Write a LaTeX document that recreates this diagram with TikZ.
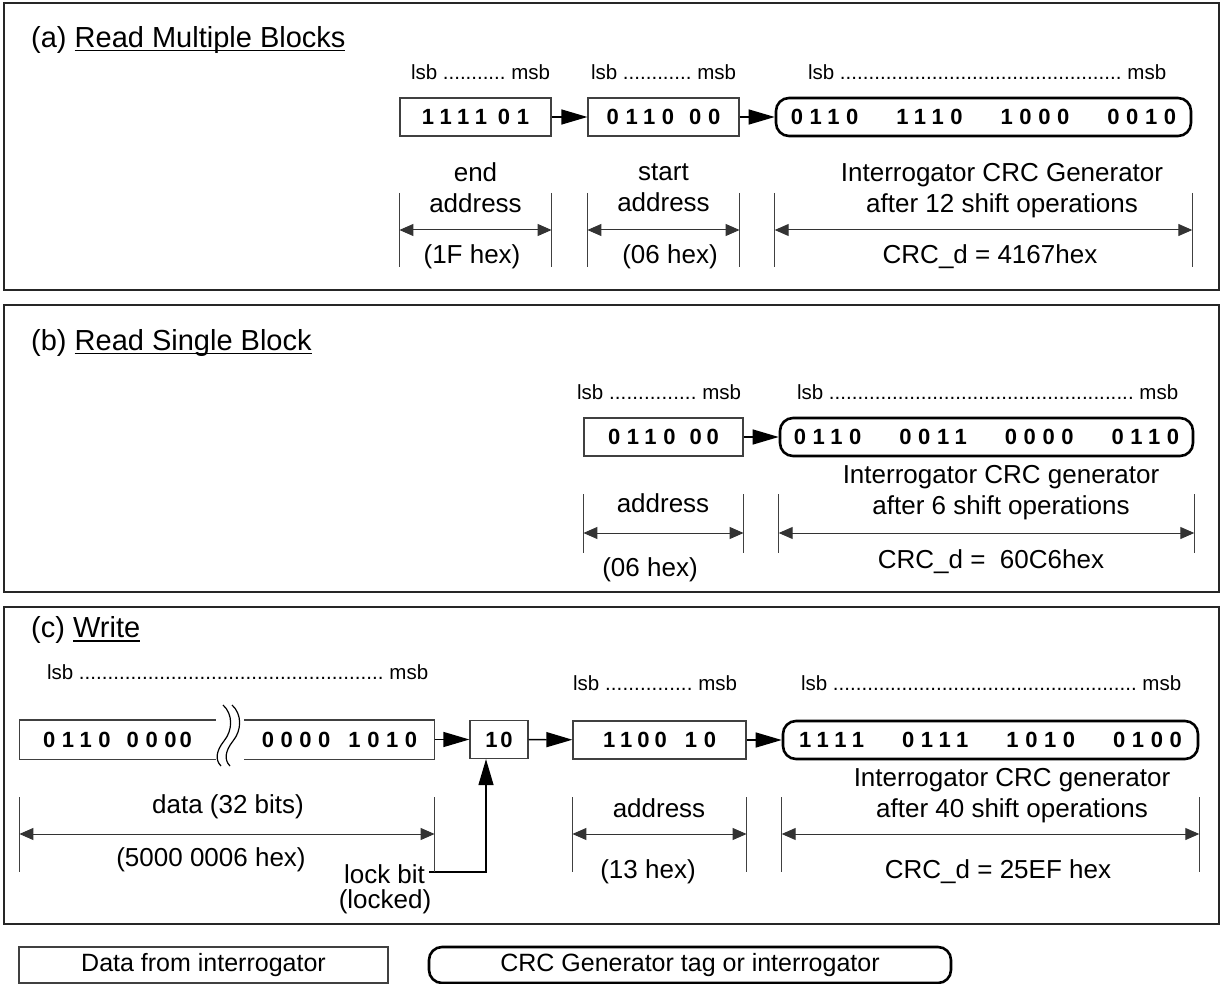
\documentclass[tikz,border=0pt]{standalone}
\usepackage{fontspec}
\setmainfont{Liberation Sans}
\newfontfamily\bitfont[LetterSpace=30]{Liberation Sans}
\usetikzlibrary{arrows.meta}

% lsb ... msb over a given width
\newcommand{\bitorder}[1]{\makebox[#1]{lsb\ \xleaders\hbox{.}\hfill\ msb}}
% four nibbles of a CRC register
\newcommand{\crcgroups}[4]{#1\hspace{38pt}#2\hspace{38pt}#3\hspace{38pt}#4}
% thick underline for the titles
\newcommand{\titleline}[1]{\setbox0\hbox{#1}\rlap{\rule[-4pt]{\wd0}{1.6pt}}\box0}

\begin{document}
\begin{tikzpicture}[x=1pt,y=-1pt,>={Triangle[length=26pt,width=15pt]},
  panel/.style={draw=black!85,line width=2pt},
  bitbox/.style={draw=black!75,line width=1.2pt,minimum height=38pt,inner sep=0pt,
                 font=\fontsize{22}{26}\bitfont\bfseries},
  crcbox/.style={bitbox,draw=black,line width=2.6pt,rounded corners=13pt},
  legend/.style={minimum height=36pt,font=\fontsize{25}{30}\selectfont},
  flow/.style={->,line width=1.3pt},
  title/.style={anchor=west,inner sep=0pt,font=\fontsize{29}{34}\selectfont},
  order/.style={inner sep=0pt,font=\fontsize{20.5}{24}\selectfont},
  lbl/.style={inner sep=0pt,align=center,font=\fontsize{26}{31}\selectfont},
  tick/.style={draw=black!75,line width=1pt},
  dim/.style={draw=black!80,line width=1pt,
              {Triangle[length=14pt,width=12pt]}-{Triangle[length=14pt,width=12pt]}}]

\useasboundingbox (0,0) rectangle (1223,984);

% (a) read multiple blocks
\draw[panel] (4,3) rectangle (1219,290);
\node[title] (ta) at (31,40) {(a) \titleline{Read Multiple Blocks}};
\node[order] (oea) at (480.5,72) {\bitorder{139pt}};
\node[order] (osa) at (663.5,72) {\bitorder{145pt}};
\node[order] (oca) at (987,72)   {\bitorder{358pt}};
\node[bitbox,minimum width=151pt] (ea) at (475.5,117) {1111\hspace{11pt}01};
\node[bitbox,minimum width=151pt] (sa) at (663.5,117) {0110\hspace{15pt}00};
\node[crcbox,minimum width=415pt] (ca) at (983.5,117) {\crcgroups{0110}{1110}{1000}{0010}};
\draw[flow] (ea) -- (sa);
\draw[flow] (sa) -- (ca);
\node[lbl] (eal) at (475.5,188) {end\\address};
\node[lbl] (eah) at (472,257)   {(1F hex)};
\node[lbl] (sal) at (663.5,188) {start\\address};
\node[lbl] (sah) at (670,257)   {(06 hex)};
\node[lbl] (cal) at (1002,191)  {Interrogator CRC Generator\\after 12 shift operations};
\node[lbl] (cah) at (990,257)   {CRC\_d = 4167hex};
\path (ea.west |- 0,193) edge[tick] (ea.west |- 0,267)
      (ea.east |- 0,193) edge[tick] (ea.east |- 0,267)
      (sa.west |- 0,193) edge[tick] (sa.west |- 0,267)
      (sa.east |- 0,193) edge[tick] (sa.east |- 0,267)
      (ca.west |- 0,193) edge[tick] (ca.west |- 0,267)
      (ca.east |- 0,193) edge[tick] (ca.east |- 0,267)
      (ea.west |- 0,230) edge[dim]  (ea.east |- 0,230)
      (sa.west |- 0,230) edge[dim]  (sa.east |- 0,230)
      (ca.west |- 0,230) edge[dim]  (ca.east |- 0,230);

% (b) read single block
\draw[panel] (4,305) rectangle (1219,592);
\node[title] (tb) at (31,343) {(b) \titleline{Read Single Block}};
\node[order] (oab) at (659,392)   {\bitorder{164pt}};
\node[order] (ocb) at (987.5,392) {\bitorder{381pt}};
\node[bitbox,minimum width=159pt] (ab) at (663.5,437) {0110\hspace{14pt}0\hspace{5pt}0};
\node[crcbox,minimum width=413pt] (cb) at (986.5,437) {\crcgroups{0110}{0011}{0000}{0110}\hspace{16pt}};
\draw[flow] (ab) -- (cb);
\node[lbl] (abl) at (663,503)  {address};
\node[lbl] (abh) at (650,570)  {(06 hex)};
\node[lbl] (cbl) at (1001,493) {Interrogator CRC generator\\after 6 shift operations};
\node[lbl] (cbh) at (991,562)  {CRC\_d =\ \ 60C6hex};
\path (ab.west |- 0,494) edge[tick] (ab.west |- 0,553)
      (ab.east |- 0,494) edge[tick] (ab.east |- 0,553)
      (cb.west |- 0,494) edge[tick] (cb.west |- 0,553)
      (cb.east |- 0,494) edge[tick] (cb.east |- 0,553)
      (ab.west |- 0,533) edge[dim]  (ab.east |- 0,533)
      (cb.west |- 0,533) edge[dim]  (cb.east |- 0,533);

% (c) write
\draw[panel] (4,607) rectangle (1219,924);
\node[title] (tc) at (31,630) {(c) \titleline{Write}};
\node[order] (odc) at (237.5,672) {\bitorder{381pt}};
\node[order] (oac) at (655,683)   {\bitorder{164pt}};
\node[order] (occ) at (991,683)   {\bitorder{380pt}};
\node[bitbox,draw=none,minimum width=195pt] (dl) at (117.5,739.5) {0110\hspace{16pt}000\hspace{3pt}0};
\node[bitbox,draw=none,minimum width=189pt] (dr) at (339.5,739.5) {0000\hspace{18pt}1010};
\draw[black!75,line width=1.2pt] (dl.north east) -- (dl.north west) -- (dl.south west) -- (dl.south east);
\draw[black!75,line width=1.2pt] (dr.north west) -- (dr.north east) -- (dr.south east) -- (dr.south west);
% break in the data field
\draw[line width=1.2pt] (223,705) .. controls (233,714) and (233,730) .. (224,741)
                                  .. controls (216,751) and (215,760) .. (221,766);
\draw[line width=1.2pt] (232,705) .. controls (242,714) and (242,730) .. (233,741)
                                  .. controls (225,751) and (224,760) .. (230,766);
\node[bitbox,minimum width=58pt]  (lk) at (499,739.5) {1\hspace{3pt}0};
\node[bitbox,minimum width=173pt] (ac) at (659.5,740) {1\hspace{5pt}1\hspace{5pt}0\hspace{5pt}0\hspace{18pt}10};
\node[crcbox,minimum width=415pt] (cc) at (990.5,740) {\crcgroups{1111}{0111}{1010}{0100}};
\draw[flow] (dr) -- (lk);
\draw[flow] (lk) -- (ac);
\draw[flow] (ac) -- (cc);
\node[lbl] (dcl) at (228,807)   {data (32 bits)};
\node[lbl] (dch) at (211,860)   {(5000 0006 hex)};
\node[lbl] (lockbit) at (384.5,874) {lock bit};
\node[lbl] (locked)  at (385,902)   {(locked)};
\coordinate (lkup) at (486,0);
\draw[flow] (lockbit.east) ++(4,-2) -| (lk.south -| lkup);
\node[lbl] (acl) at (659,808)   {address};
\node[lbl] (ach) at (648,872)   {(13 hex)};
\node[lbl] (ccl) at (1012,796)  {Interrogator CRC generator\\after 40 shift operations};
\node[lbl] (cch) at (998,872)   {CRC\_d = 25EF hex};
\path (dl.west |- 0,797) edge[tick] (dl.west |- 0,872)
      (dr.east |- 0,797) edge[tick] (dr.east |- 0,872)
      (ac.west |- 0,797) edge[tick] (ac.west |- 0,872)
      (ac.east |- 0,797) edge[tick] (ac.east |- 0,872)
      (cc.west |- 0,797) edge[tick] (cc.west |- 0,872)
      (cc.east |- 0,797) edge[tick] (cc.east |- 0,872)
      (dl.west |- 0,834) edge[dim]  (dr.east |- 0,834)
      (ac.west |- 0,834) edge[dim]  (ac.east |- 0,834)
      (cc.west |- 0,834) edge[dim]  (cc.east |- 0,834);

% legend
\node[bitbox,legend,minimum width=369pt] (lgd) at (203.5,965) {Data from interrogator};
\node[crcbox,legend,minimum width=522pt] (lgc) at (690,965) {CRC Generator tag or interrogator};
\end{tikzpicture}
\end{document}
